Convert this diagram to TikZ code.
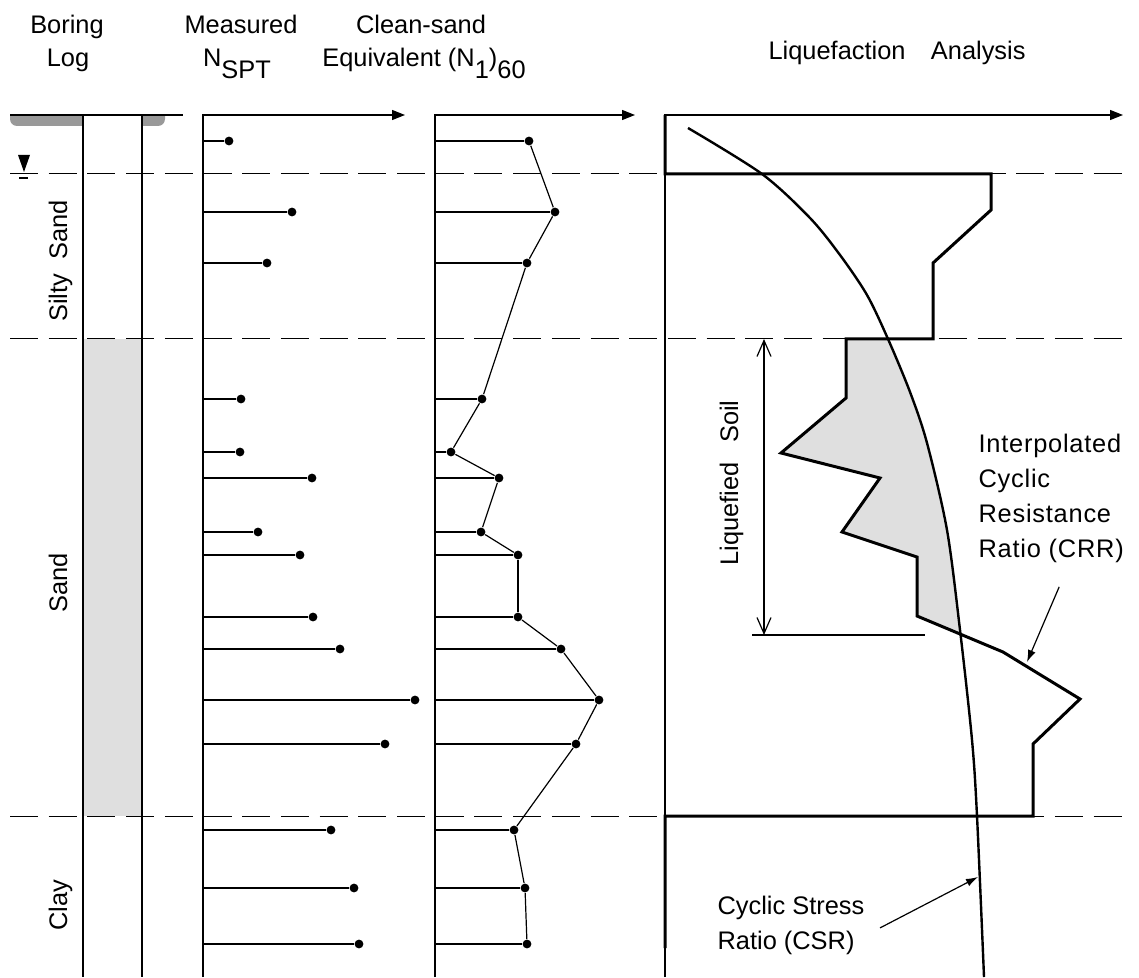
\documentclass[tikz,border=0pt]{standalone}
\usepackage{fontspec}
\setmainfont{Liberation Sans}
\newfontfamily\spacedfont{Liberation Sans}[LetterSpace=3]
\usepackage{tikz}
\usetikzlibrary{arrows.meta}
\newcommand{\lowsub}[1]{\raisebox{-6pt}{#1}}

\begin{document}
\begin{tikzpicture}[x=0.5pt, y=-0.5pt, line width=0.6pt, font=\fontsize{12.7}{17.5}\selectfont]
	\useasboundingbox (0,0) rectangle (1139,978);
      \tikzstyle{txt} = [inner sep=0pt]
      \tikzstyle{layer} = [line width=0.5pt, dash pattern=on 14pt off 5.35pt]
      \tikzstyle{axis} = [-{Triangle[length=6.5pt,width=5pt]}]
      \tikzstyle{blow} = [circle, fill=black, inner sep=0pt, minimum size=4.4pt]
      \tikzstyle{crr} = [line width=1.5pt, line join=miter]
      \tikzstyle{csr} = [line width=1.2pt]
      \tikzstyle{ptr} = [-{Latex[length=6pt,width=4pt]}]
      \tikzstyle{span} = [{Straight Barb[length=8pt,width=7pt]}-{Straight Barb[length=8pt,width=7pt]}]
      \node[txt, anchor=base] (boring) at (67,34) {Boring};
      \node[txt, anchor=base] (log) at (68,67) {Log};
      \node[txt, anchor=base] (measured) at (241,34) {Measured};
      \node[txt, anchor=base] (nspt) at (237,67) {N\lowsub{SPT}};
      \node[txt, anchor=base] (cleansand) at (421,34) {Clean-sand};
      \node[txt, anchor=base] (equivalent) at (424,67) {Equivalent (N\lowsub{1})\lowsub{60}};
      \node[txt, anchor=base west] (liqanalysis) at (768,60) {Liquefaction\quad Analysis};
      \begin{scope}
        \clip (0,115) rectangle (200,140);
        \fill[gray!80, rounded corners=3.5pt] (10,100) rectangle (165,126);
      \end{scope}
      \fill[white] (83,116) rectangle (142,128);
      \fill[gray!25] (83,339) rectangle (142,816);
      \begin{scope}
        \clip (665,115) -- plot[smooth] coordinates {(688,128) (762,174) (810,218) (840,255) (867,295) (888,339) (910,392) (927,443) (947,530) (960,630) (972,740) (977,816) (984,977)} -- (665,977) -- cycle;
        \fill[gray!25] (846,339) -- (846,398) -- (781,453) -- (880,478) -- (842,532) -- (917,557) -- (917,616) -- (1003,652) -- (1100,339) -- cycle;
      \end{scope}
      \foreach \y in {174,339,816}
        \draw[layer] (10,\y) -- (1122,\y);
      \draw (83,115) -- (83,977);
      \draw (142,115) -- (142,977);
      \draw[line width=1.4pt] (10,115) -- (183,115);
      \fill (18,155) -- (30,155) -- (24,172) -- cycle;
      \draw (19,178) -- (28,178);
      \node[txt, rotate=90, anchor=base] (siltysand) at (67,261) {Silty\ \ Sand};
      \node[txt, rotate=90, anchor=base] (sand) at (67,583) {Sand};
      \node[txt, rotate=90, anchor=base] (clay) at (67,905) {Clay};
      \draw[axis] (203,977) -- (203,115) -- (405,115);
      \draw[axis] (435,977) -- (435,115) -- (635,115);
      \draw[axis] (665,977) -- (665,115) -- (1123,115);
      \foreach \y/\m/\c [count=\i] in {141/229/529, 212/292/555, 263/267/527, 399/241/482, 452/240/451, 478/312/499, 532/258/481, 555/300/518, 617/313/518, 649/340/561, 700/415/599, 744/385/576, 830/331/514, 888/354/525, 944/359/527} {
        \node[blow] (spt\i) at (\m,\y) {};
        \node[blow] (clean\i) at (\c,\y) {};
        \draw (203,\y) -- (spt\i);
        \draw (435,\y) -- (clean\i);
      }
      \foreach \i [remember=\i as \j (initially 1)] in {2,...,15}
        \draw (clean\j) -- (clean\i);
      \draw[crr] (665,115) -- (665,174) -- (991,174) -- (991,210) -- (933,263) -- (933,339) -- (846,339) -- (846,398) -- (781,453) -- (880,478) -- (842,532) -- (917,557) -- (917,616) -- (1003,652) -- (1080,699) -- (1033,744) -- (1033,816) -- (665,816) -- (665,948);
      \draw[csr] plot[smooth] coordinates {(688,128) (762,174) (810,218) (840,255) (867,295) (888,339) (910,392) (927,443) (947,530) (960,630) (972,740) (977,816) (984,977)};
      \coordinate (liqtop) at (764,339);
      \coordinate (liqbot) at (764,635);
      \draw[span] (liqtop) -- (liqbot);
      \draw (752,635) -- (925,635);
      \node[txt, rotate=90, anchor=base] (liqsoil) at (738,483) {Liquefied\ \enskip Soil};
      \node[txt, anchor=north west, align=left, font=\spacedfont\fontsize{12.7}{17.5}\selectfont] (crrtxt) at (978,433) {Interpolated\\Cyclic\\Resistance\\Ratio (CRR)};
      \node[txt, anchor=north west, align=left] (csrtxt) at (717,895) {Cyclic Stress\\Ratio (CSR)};
      \coordinate (crrtip) at (1027,662);
      \coordinate (csrtip) at (978,877);
      \draw[ptr] ([shift={(8,24)}]crrtxt.south) -- (crrtip);
      \draw[ptr] ([shift={(15,3)}]csrtxt.east) -- (csrtip);
    \end{tikzpicture}
\end{document}
